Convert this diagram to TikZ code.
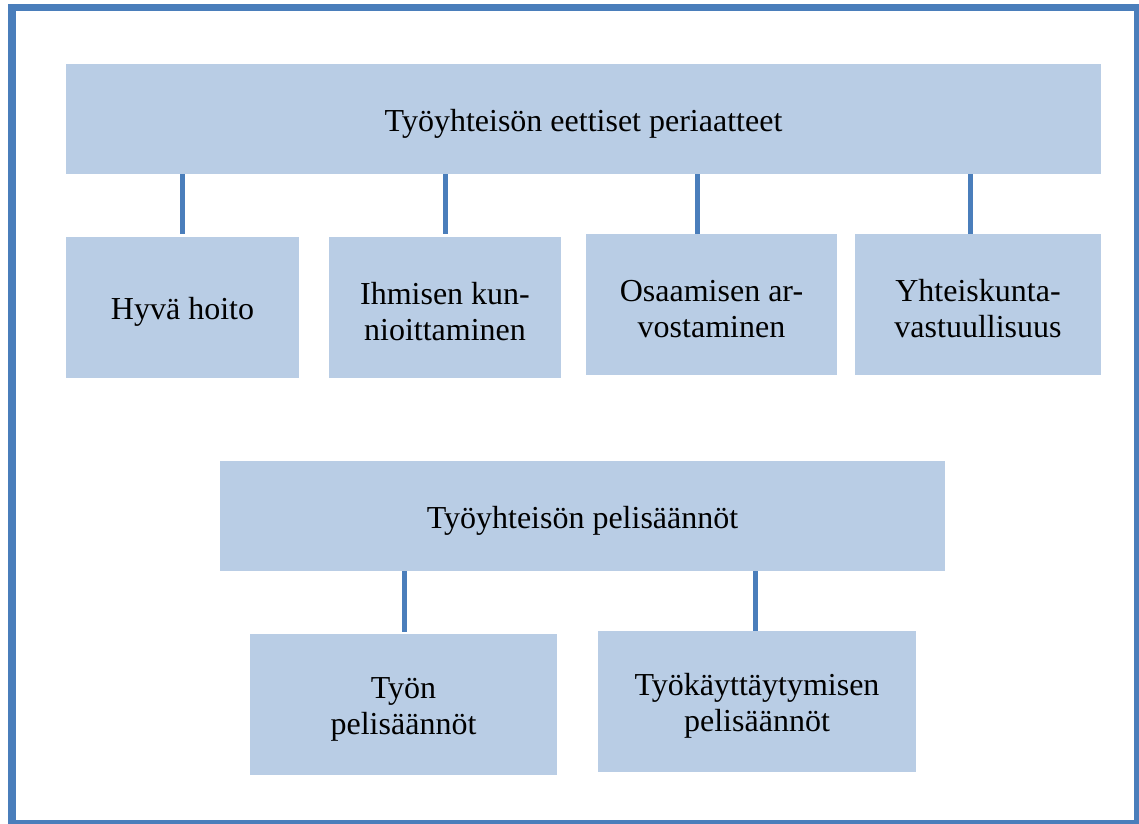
\documentclass[tikz,border=0pt]{standalone}
\usepackage{fontspec}
\setmainfont{Liberation Serif}
\definecolor{boxfill}{HTML}{B9CDE5}
\definecolor{linecol}{HTML}{4A7EBB}
\begin{document}
\begin{tikzpicture}[x=1pt,y=-1pt,
  box/.style={fill=boxfill,draw=none,inner sep=0pt},
  lbl/.style={inner sep=0pt,align=center,font=\fontsize{32}{36}\selectfont},
  conn/.style={draw=linecol,line width=5pt}]
\useasboundingbox (0,0) rectangle (1139,823);
\clip (0,0) rectangle (1139,823);
\draw[draw=linecol,line width=7.5pt] (12,7.4) rectangle (1137.5,823.5);
% top level
\node[box,minimum width=1035pt,minimum height=110pt] (top) at (583.5,119) {};
\node[box,minimum width=233pt,minimum height=141pt] (h1) at (182.5,307.5) {};
\node[box,minimum width=232pt,minimum height=141pt] (h2) at (445,307.5) {};
\node[box,minimum width=251pt,minimum height=141pt] (h3) at (711.5,304.5) {};
\node[box,minimum width=246pt,minimum height=141pt] (h4) at (978,304.5) {};
% second level
\node[box,minimum width=725pt,minimum height=110pt] (mid) at (582.5,516) {};
\node[box,minimum width=307pt,minimum height=141pt] (b1) at (403.5,704.5) {};
\node[box,minimum width=318pt,minimum height=141pt] (b2) at (757,701.5) {};
% labels
\node[lbl] (ttop) at ([yshift=-4.5pt]top.center) {Työyhteisön eettiset periaatteet};
\node[lbl] (th1) at ([yshift=-4.5pt]h1.center) {Hyvä hoito};
\node[lbl] (th2) at ([yshift=-4.5pt]h2.center) {Ihmisen kun-\\nioittaminen};
\node[lbl] (th3) at ([yshift=-4.5pt]h3.center) {Osaamisen ar-\\vostaminen};
\node[lbl] (th4) at ([yshift=-4.5pt]h4.center) {Yhteiskunta-\\vastuullisuus};
\node[lbl] (tmid) at ([yshift=-4.5pt]mid.center) {Työyhteisön pelisäännöt};
\node[lbl] (tb1) at ([yshift=-4.5pt]b1.center) {Työn\\pelisäännöt};
\node[lbl] (tb2) at ([yshift=-4.5pt]b2.center) {Työkäyttäytymisen\\pelisäännöt};
% connectors
\draw[conn] ([xshift=-0.5pt,yshift=3pt]h1.north) -- ([xshift=-0.5pt]h1.north |- top.south);
\draw[conn] ([yshift=3pt]h2.north) -- (h2.north |- top.south);
\draw[conn] ([xshift=-14.5pt]h3.north) -- ([xshift=-14.5pt]h3.north |- top.south);
\draw[conn] ([xshift=-8pt]h4.north) -- ([xshift=-8pt]h4.north |- top.south);
\draw[conn] ([xshift=0.5pt,yshift=2pt]b1.north) -- ([xshift=0.5pt]b1.north |- mid.south);
\draw[conn] ([xshift=-2pt]b2.north) -- ([xshift=-2pt]b2.north |- mid.south);
\end{tikzpicture}
\end{document}
